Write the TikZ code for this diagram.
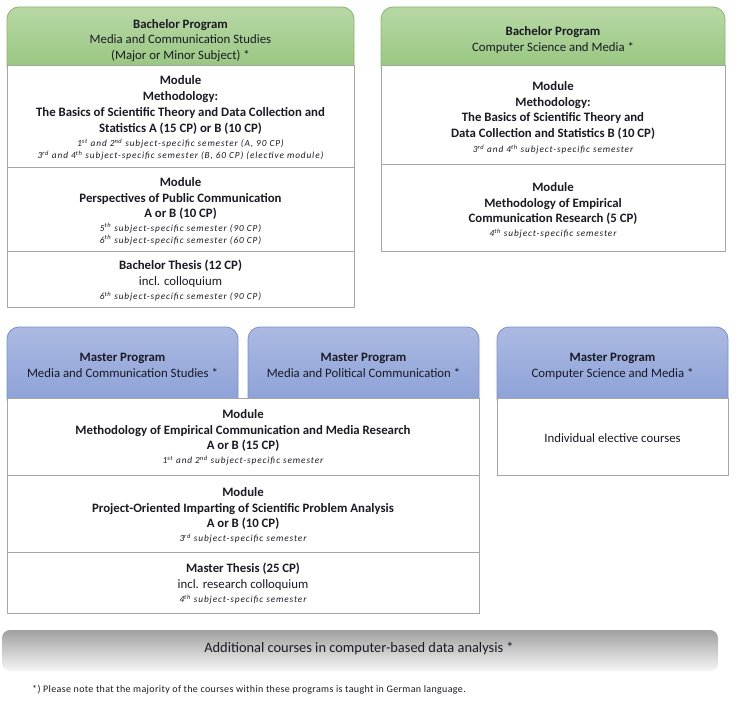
\documentclass[tikz,border=0pt]{standalone}
\usepackage{fontspec}
\setmainfont{Carlito}
\newfontfamily\smallfont{Carlito}[LetterSpace=9.5]
\newfontfamily\notefont{Carlito}[LetterSpace=3.5]
\definecolor{gTop}{RGB}{184,216,166}
\definecolor{gBot}{RGB}{146,196,122}
\definecolor{gLine}{RGB}{136,184,110}
\definecolor{bTop}{RGB}{172,186,226}
\definecolor{bBot}{RGB}{136,158,214}
\definecolor{bLine}{RGB}{120,144,206}
\definecolor{boxLine}{RGB}{166,166,166}
\definecolor{txtCol}{RGB}{26,26,36}
\definecolor{barTop}{RGB}{160,160,160}
\definecolor{barBot}{RGB}{246,246,246}
\tikzset{
  hdrgreen/.style={rounded corners=12pt, draw=gLine, line width=0.8pt, top color=gTop, bottom color=gBot, inner sep=0pt},
  hdrblue/.style={rounded corners=12pt, draw=bLine, line width=0.8pt, top color=bTop, bottom color=bBot, inner sep=0pt},
  bodybox/.style={draw=boxLine, fill=white, line width=0.9pt, inner sep=0pt},
  bigtxt/.style={align=center, text=txtCol, inner sep=0pt, font=\fontsize{12.8}{15.8}\selectfont},
  smalltxt/.style={align=center, text=txtCol, inner sep=0pt, font=\smallfont\fontsize{9.3}{12}\selectfont\itshape},
  bartxt/.style={text=txtCol, inner sep=0pt, font=\fontsize{14.4}{16}\selectfont},
  notetxt/.style={text=txtCol, inner sep=0pt, anchor=west, font=\notefont\fontsize{10}{12}\selectfont}
}
\begin{document}
\begin{tikzpicture}[x=1pt,y=-1pt]
\useasboundingbox (0,0) rectangle (739,717);
% ---------- Bachelor MCS ----------
\node[hdrgreen, minimum width=347pt, minimum height=72pt] (tlh) at (180.5,43) {};
\node[bodybox, minimum width=347pt, minimum height=102pt] (tl1) at (180.5,116) {};
\node[bodybox, minimum width=347pt, minimum height=84pt] (tl2) at (180.5,209) {};
\node[bodybox, minimum width=347pt, minimum height=56pt] (tl3) at (180.5,279) {};
\node[bigtxt] (tlht) at (180.5,40.5) {\textbf{Bachelor Program}\\Media and Communication Studies\\(Major or Minor Subject) *};
\node[bigtxt] (tl1t) at (180.5,105) {\textbf{Module}\\\textbf{Methodology:}\\\textbf{The Basics of Scientific Theory and Data Collection and}\\\textbf{Statistics A (15 CP) or B (10 CP)}};
\node[smalltxt] (tl1s) at (180.5,149.5) {1\textsuperscript{st} and 2\textsuperscript{nd} subject-specific semester (A, 90 CP)\\3\textsuperscript{rd} and 4\textsuperscript{th} subject-specific semester (B, 60 CP) (elective module)};
\node[bigtxt] (tl2t) at (180.5,198.5) {\textbf{Module}\\\textbf{Perspectives of Public Communication}\\\textbf{A or B (10 CP)}};
\node[smalltxt] (tl2s) at (180.5,234) {5\textsuperscript{th} subject-specific semester (90 CP)\\6\textsuperscript{th} subject-specific semester (60 CP)};
\node[bigtxt] (tl3t) at (180.5,274) {\textbf{Bachelor Thesis (12 CP)}\\incl. colloquium};
\node[smalltxt] (tl3s) at (180.5,296.5) {6\textsuperscript{th} subject-specific semester (90 CP)};
% ---------- Bachelor CSM ----------
\node[hdrgreen, minimum width=344pt, minimum height=72pt] (trh) at (553,43) {};
\node[bodybox, minimum width=344pt, minimum height=99pt] (tr1) at (553,114.5) {};
\node[bodybox, minimum width=344pt, minimum height=87pt] (tr2) at (553,207.5) {};
\node[bigtxt] (trht) at (553,40) {\textbf{Bachelor Program}\\Computer Science and Media *};
\node[bigtxt] (tr1t) at (553,110.5) {\textbf{Module}\\\textbf{Methodology:}\\\textbf{The Basics of Scientific Theory and}\\\textbf{Data Collection and Statistics B (10 CP)}};
\node[smalltxt] (tr1s) at (553,149.5) {3\textsuperscript{rd} and 4\textsuperscript{th} subject-specific semester};
\node[bigtxt] (tr2t) at (553,203.5) {\textbf{Module}\\\textbf{Methodology of Empirical}\\\textbf{Communication Research (5 CP)}};
\node[smalltxt] (tr2s) at (553,233.5) {4\textsuperscript{th} subject-specific semester};
% ---------- Master MCS / MPC ----------
\node[hdrblue, minimum width=231pt, minimum height=84pt] (mlh) at (122.5,369) {};
\node[hdrblue, minimum width=231pt, minimum height=84pt] (mrh) at (363.5,369) {};
\node[bodybox, minimum width=472pt, minimum height=77pt] (m1) at (243,436.5) {};
\node[bodybox, minimum width=472pt, minimum height=77pt] (m2) at (243,513.5) {};
\node[bodybox, minimum width=472pt, minimum height=61pt] (m3) at (243,582.5) {};
\node[bigtxt] (mlht) at (122.5,365.5) {\textbf{Master Program}\\Media and Communication Studies *};
\node[bigtxt] (mrht) at (363.5,365.5) {\textbf{Master Program}\\Media and Political Communication *};
\node[bigtxt] (m1t) at (243,430.5) {\textbf{Module}\\\textbf{Methodology of Empirical Communication and Media Research}\\\textbf{A or B (15 CP)}};
\node[smalltxt] (m1s) at (243,460.5) {1\textsuperscript{st} and 2\textsuperscript{nd} subject-specific semester};
\node[bigtxt] (m2t) at (243,508.5) {\textbf{Module}\\\textbf{Project-Oriented Imparting of Scientific Problem Analysis}\\\textbf{A or B (10 CP)}};
\node[smalltxt] (m2s) at (243,538.5) {3\textsuperscript{rd} subject-specific semester};
\node[bigtxt] (m3t) at (243,577) {\textbf{Master Thesis (25 CP)}\\incl. research colloquium};
\node[smalltxt] (m3s) at (243,599.5) {4\textsuperscript{th} subject-specific semester};
% ---------- Master CSM ----------
\node[hdrblue, minimum width=231pt, minimum height=84pt] (mch) at (612.5,369) {};
\node[bodybox, minimum width=231pt, minimum height=77pt] (mc1) at (612.5,436.5) {};
\node[bigtxt] (mcht) at (612.5,366.5) {\textbf{Master Program}\\Computer Science and Media *};
\node[bigtxt] (mc1t) at (612.5,438) {Individual elective courses};
% ---------- Bottom bar ----------
\node[rounded corners=8pt, top color=barTop, bottom color=barBot, minimum width=716pt, minimum height=41pt, inner sep=0pt] (bar) at (360,650.5) {};
\node[bartxt] (bart) at (359,649) {Additional courses in computer-based data analysis *};
\node[notetxt] (note) at (32,690) {*) Please note that the majority of the courses within these programs is taught in German language.};
\end{tikzpicture}
\end{document}
